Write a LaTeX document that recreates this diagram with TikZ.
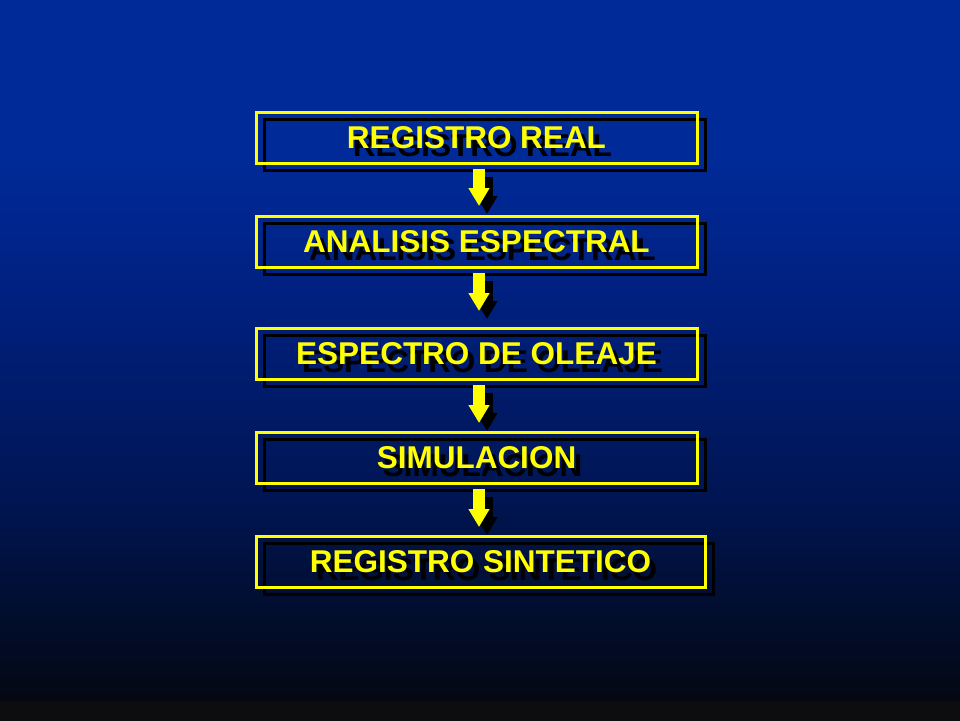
\documentclass[tikz,border=0pt]{standalone}
\usepackage{fontspec}
\setmainfont{Liberation Sans}
\usetikzlibrary{arrows.meta}
\definecolor{skytop}{RGB}{0,42,152}
\definecolor{skymid}{RGB}{0,32,127}
\definecolor{skylow}{RGB}{0,21,82}
\definecolor{skydeep}{RGB}{3,8,18}
\definecolor{skyband}{RGB}{13,13,15}
\definecolor{ylw}{RGB}{255,255,0}
% 100bp shading, the middle 25bp--75bp fills the path
\pgfdeclareverticalshading{sky}{100bp}{color(0bp)=(skyband); color(25bp)=(skyband); color(26.25bp)=(skyband); color(26.4bp)=(skydeep); color(40.3bp)=(skylow); color(54.2bp)=(skymid); color(63.9bp)=(skytop); color(75bp)=(skytop); color(100bp)=(skytop)}
\tikzset{
  stepbox/.style={draw=ylw,line width=3pt,minimum height=51pt,inner sep=0pt},
  boxshade/.style={draw=black,line width=3pt,minimum height=51pt,inner sep=0pt},
  lbl/.style={text=ylw,font=\fontsize{31.5}{36}\selectfont\bfseries},
  lblshade/.style={text=black,font=\fontsize{31.5}{36}\selectfont\bfseries},
  flow/.style={draw=ylw,line width=12pt,-{Triangle[width=20pt,length=18pt]}},
  flowshade/.style={draw=black,line width=12pt,-{Triangle[width=20pt,length=18pt]}}
}
\begin{document}
\begin{tikzpicture}[x=1pt,y=-1pt]
	\shade[shading=sky] (0,0) rectangle (960,720);
	% boxes, black copy first
	\node[boxshade,minimum width=441pt] at (484.5,144.5) (s1) {};
	\node[boxshade,minimum width=441pt] at (484.5,249) (s2) {};
	\node[boxshade,minimum width=441pt] at (484.5,361) (s3) {};
	\node[boxshade,minimum width=441pt] at (484.5,465) (s4) {};
	\node[boxshade,minimum width=449pt] at (488.5,569) (s5) {};
	\node[stepbox,minimum width=441pt] at (476.5,137.5) (r1) {};
	\node[stepbox,minimum width=441pt] at (476.5,242) (r2) {};
	\node[stepbox,minimum width=441pt] at (476.5,354) (r3) {};
	\node[stepbox,minimum width=441pt] at (476.5,458) (r4) {};
	\node[stepbox,minimum width=449pt] at (480.5,562) (r5) {};
	% labels
	\node[lblshade] at ([shift={(6,8)}]r1.center) (t1s) {REGISTRO REAL};
	\node[lblshade] at ([shift={(6,8)}]r2.center) (t2s) {ANALISIS ESPECTRAL};
	\node[lblshade] at ([shift={(6,8)}]r3.center) (t3s) {ESPECTRO DE OLEAJE};
	\node[lblshade] at ([shift={(6,8)}]r4.center) (t4s) {SIMULACION};
	\node[lblshade] at ([shift={(6,8)}]r5.center) (t5s) {REGISTRO SINTETICO};
	\node[lbl] at (r1.center) (t1) {REGISTRO REAL};
	\node[lbl] at (r2.center) (t2) {ANALISIS ESPECTRAL};
	\node[lbl] at (r3.center) (t3) {ESPECTRO DE OLEAJE};
	\node[lbl] at (r4.center) (t4) {SIMULACION};
	\node[lbl] at (r5.center) (t5) {REGISTRO SINTETICO};
	% arrows
	\path[flowshade] ([shift={(10.5,12)}]r1.south) -- ([shift={(10.5,-1)}]r2.north);
	\path[flowshade] ([shift={(10.5,12)}]r2.south) -- ([shift={(10.5,-8)}]r3.north);
	\path[flowshade] ([shift={(10.5,12)}]r3.south) -- ([shift={(10.5,0)}]r4.north);
	\path[flowshade] ([shift={(10.5,12)}]r4.south) -- ([shift={(6.5,0)}]r5.north);
	\path[flow] ([shift={(2.5,4)}]r1.south) -- ([shift={(2.5,-9)}]r2.north);
	\path[flow] ([shift={(2.5,4)}]r2.south) -- ([shift={(2.5,-16)}]r3.north);
	\path[flow] ([shift={(2.5,4)}]r3.south) -- ([shift={(2.5,-8)}]r4.north);
	\path[flow] ([shift={(2.5,4)}]r4.south) -- ([shift={(-1.5,-8)}]r5.north);
\end{tikzpicture}
\end{document}
